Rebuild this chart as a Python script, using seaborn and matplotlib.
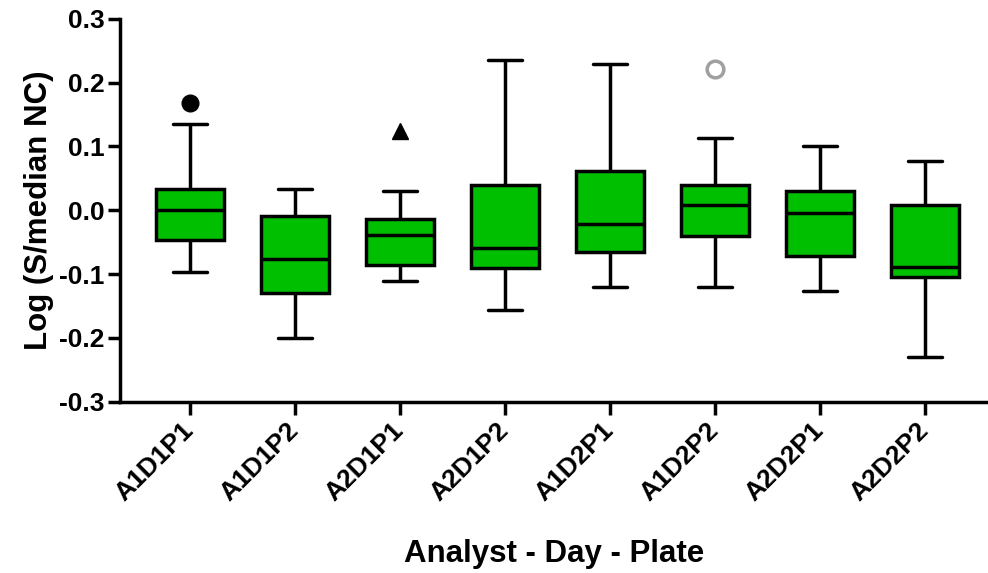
"""box plot of log(S/median NC) per analyst - day - plate run"""

import numpy as np
import pandas as pd
import seaborn as sns
import matplotlib.pyplot as plt

# category order along the x axis
groups = ["A1D1P1", "A1D1P2", "A2D1P1", "A2D1P2", "A1D2P1", "A1D2P2", "A2D2P1", "A2D2P2"]

# box statistics (whisker low, q1, median, q3, whisker high)
whisker_low = [-0.097, -0.200, -0.111, -0.157, -0.120, -0.120, -0.127, -0.230]
q1 = [-0.046, -0.129, -0.086, -0.091, -0.065, -0.040, -0.072, -0.104]
median = [0.000, -0.076, -0.039, -0.059, -0.022, 0.009, -0.004, -0.089]
q3 = [0.034, -0.009, -0.014, 0.040, 0.061, 0.039, 0.030, 0.008]
whisker_high = [0.136, 0.034, 0.031, 0.235, 0.229, 0.113, 0.101, 0.078]

# outliers drawn with their own marker
outlier_groups = ["A1D1P1", "A2D1P1", "A1D2P2"]
outlier_values = [0.168, 0.124, 0.221]

GREEN = "#00BF00"


def build_frame() -> pd.DataFrame:
    """five points per group give exactly the quartiles above"""
    rows = []
    for i, g in enumerate(groups):
        for v in (whisker_low[i], q1[i], median[i], q3[i], whisker_high[i]):
            rows.append({"group": g, "value": v})
    return pd.DataFrame(rows)


def main() -> None:
    sns.set_style("ticks")
    plt.rcParams["font.family"] = ["Liberation Sans", "DejaVu Sans"]
    plt.rcParams["font.weight"] = "bold"
    for key in ("text.color", "axes.labelcolor", "xtick.color", "ytick.color"):
        plt.rcParams[key] = "black"

    df = build_frame()
    fig = plt.figure(figsize=(9.88, 5.73), dpi=100)
    ax = fig.add_axes([0.1215, 0.299, 0.8785, 0.668])

    sns.boxplot(
        data=df, x="group", y="value", order=groups, ax=ax,
        whis=(0, 100), width=0.64, color=GREEN, saturation=1,
        linecolor="black", linewidth=2.5, showfliers=False,
    )

    styles = [
        dict(marker="o", color="black", markersize=12),
        dict(marker="^", color="black", markersize=12),
        dict(marker="o", markerfacecolor="white", markeredgecolor="#a0a0a0",
             markeredgewidth=2.5, markersize=12),
    ]
    for g, v, st in zip(outlier_groups, outlier_values, styles):
        ax.plot(groups.index(g), v, linestyle="none", **st)

    ax.set_ylim(-0.3, 0.3)
    ax.set_yticks(np.arange(-0.3, 0.31, 0.1))
    ax.set_yticklabels([f"{t:.1f}" for t in np.arange(-0.3, 0.31, 0.1)])
    ax.set_xlim(-0.667, 7.6)
    ax.set_xticks(range(len(groups)))
    ax.set_xticklabels(groups, rotation=45, ha="right", va="center",
                       rotation_mode="anchor")

    for side in ("top", "right"):
        ax.spines[side].set_visible(False)
    for side in ("left", "bottom"):
        ax.spines[side].set_linewidth(2.5)
        ax.spines[side].set_color("black")
    ax.tick_params(axis="both", width=2.5, length=9, color="black")
    ax.tick_params(axis="y", labelsize=19, pad=2)
    ax.tick_params(axis="x", labelsize=19, pad=9)
    for lab in ax.get_xticklabels() + ax.get_yticklabels():
        lab.set_fontweight("bold")

    ax.set_ylabel("Log (S/median NC)", fontsize=22.5, fontweight="bold", labelpad=4)
    ax.set_xlabel("Analyst - Day - Plate", fontsize=22.5, fontweight="bold", labelpad=24)

    fig.savefig("out.png", dpi=100)
    plt.close(fig)


if __name__ == "__main__":
    main()
